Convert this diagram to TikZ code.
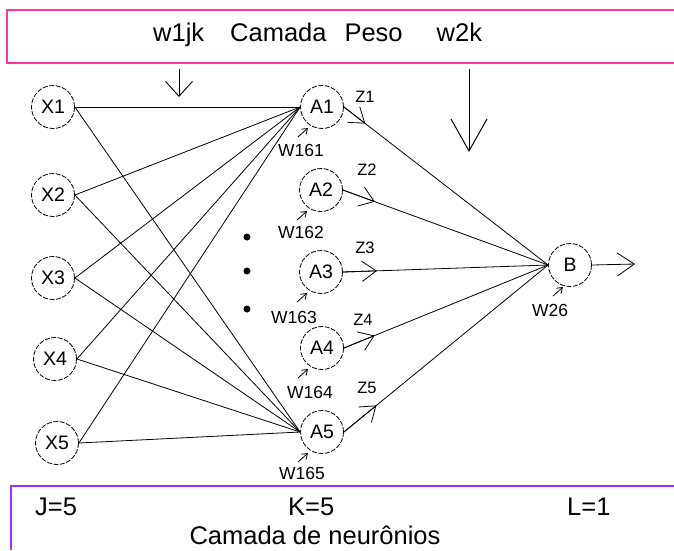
\documentclass[tikz,border=0pt]{standalone}
\usepackage{fontspec}
\setmainfont{Liberation Sans}
\usetikzlibrary{arrows.meta,calc}
\definecolor{boxpink}{HTML}{FF3399}
\definecolor{boxpurple}{HTML}{9933FF}
\begin{document}
\begin{tikzpicture}[x=1pt,y=-1pt,
  neuron/.style={circle, draw, line width=0.8pt, dash pattern=on 5pt off 1.5pt,
    minimum size=43pt, inner sep=0pt, font=\fontsize{19.5pt}{22pt}\selectfont},
  link/.style={line width=0.8pt},
  wlabel/.style={inner sep=0pt, font=\fontsize{17.5pt}{20pt}\selectfont},
  zlabel/.style={inner sep=0pt, font=\fontsize{16.5pt}{19pt}\selectfont},
  bigtext/.style={inner sep=0pt, font=\fontsize{25.5pt}{30pt}\selectfont},
  dotnode/.style={circle, fill, inner sep=0pt, minimum size=7pt},
  midhead/.style={-{Straight Barb[length=14pt,width=20pt]}},
  smallhead/.style={-{Straight Barb[length=5pt,width=7pt]}}]
\useasboundingbox (0,0) rectangle (674,550);
% boxes
\draw[boxpink, line width=2pt] (674,10) -- (7,10) -- (7,63) -- (674,63);
\draw[boxpurple, line width=2pt] (674,486) -- (11,486) -- (11,550);
% texts
\node[bigtext, anchor=base west] (title) at (153,41)
  {w1jk\hspace{26pt}Camada\hspace{18pt}Peso\hspace{34pt}w2k};
\node[bigtext, anchor=base west] (J) at (35,515) {J=5};
\node[bigtext, anchor=base west] (K) at (288,515) {K=5};
\node[bigtext, anchor=base west] (L) at (567,515) {L=1};
\node[bigtext, anchor=base] (layer) at (315,544) {Camada de neurônios};
% neurons
\node[neuron] (X1) at (53,107) {X1};
\node[neuron] (X2) at (53,195) {X2};
\node[neuron] (X3) at (53,278) {X3};
\node[neuron] (X4) at (55,359) {X4};
\node[neuron] (X5) at (57,443) {X5};
\node[neuron] (A1) at (322,107) {A1};
\node[neuron] (A2) at (321,190) {A2};
\node[neuron] (A3) at (321,272) {A3};
\node[neuron] (A4) at (322,348) {A4};
\node[neuron] (A5) at (322,432) {A5};
\node[neuron] (B) at (570,265) {B};
% dots
\node[dotnode] (d1) at (247,237) {};
\node[dotnode] (d2) at (247,271) {};
\node[dotnode] (d3) at (247,309) {};
% input connections
\foreach \i in {1,...,5} {
  \draw[link] (X\i.east) -- (A1.west);
  \draw[link] (X\i.east) -- (A5.west);
}
% hidden to output
\foreach \i/\d in {1/27,2/34,3/34,4/33,5/42} {
  \draw[link] (A\i.east) -- (B.west);
  \draw[link, midhead] (A\i.east) -- ($(A\i.east)!\d pt!(B.west)$);
}
% output arrow
\coordinate (out) at (635,264);
\draw[link, -{Straight Barb[length=17pt,width=23pt]}] (B.east) -- (out);
% weight arrows
\coordinate (top1) at (179,69);
\coordinate (tip1) at (179,97);
\draw[line width=0.9pt, -{Straight Barb[length=15pt,width=27pt]}] (top1) -- (tip1);
\coordinate (top2) at (469,69);
\coordinate (tip2) at (469,152);
\draw[line width=1pt, -{Straight Barb[length=32pt,width=36pt]}] (top2) -- (tip2);
% Z labels
\node[zlabel] (Z1) at (365,97) {Z1};
\node[zlabel] (Z2) at (367,170) {Z2};
\node[zlabel] (Z3) at (365,248) {Z3};
\node[zlabel] (Z4) at (363,320) {Z4};
\node[zlabel] (Z5) at (367,388) {Z5};
% W labels
\node[wlabel] (W161) at (301,150) {W161};
\node[wlabel] (W162) at (301,232) {W162};
\node[wlabel] (W163) at (294,317) {W163};
\node[wlabel] (W164) at (310,392) {W164};
\node[wlabel] (W165) at (302,473) {W165};
\node[wlabel] (W26) at (550,310) {W26};
\foreach \n in {A1,A2,A3,A4,A5} {
  \coordinate (\n tip) at ($(\n)+(-14,21)$);
  \coordinate (\n tail) at ($(\n tip)+(-10,9)$);
  \draw[link, smallhead] (\n tail) -- (\n tip);
}
\coordinate (Btip) at ($(B)+(-7,22)$);
\coordinate (Btail) at ($(Btip)+(-10,9)$);
\draw[link, smallhead] (Btail) -- (Btip);
\end{tikzpicture}
\end{document}
